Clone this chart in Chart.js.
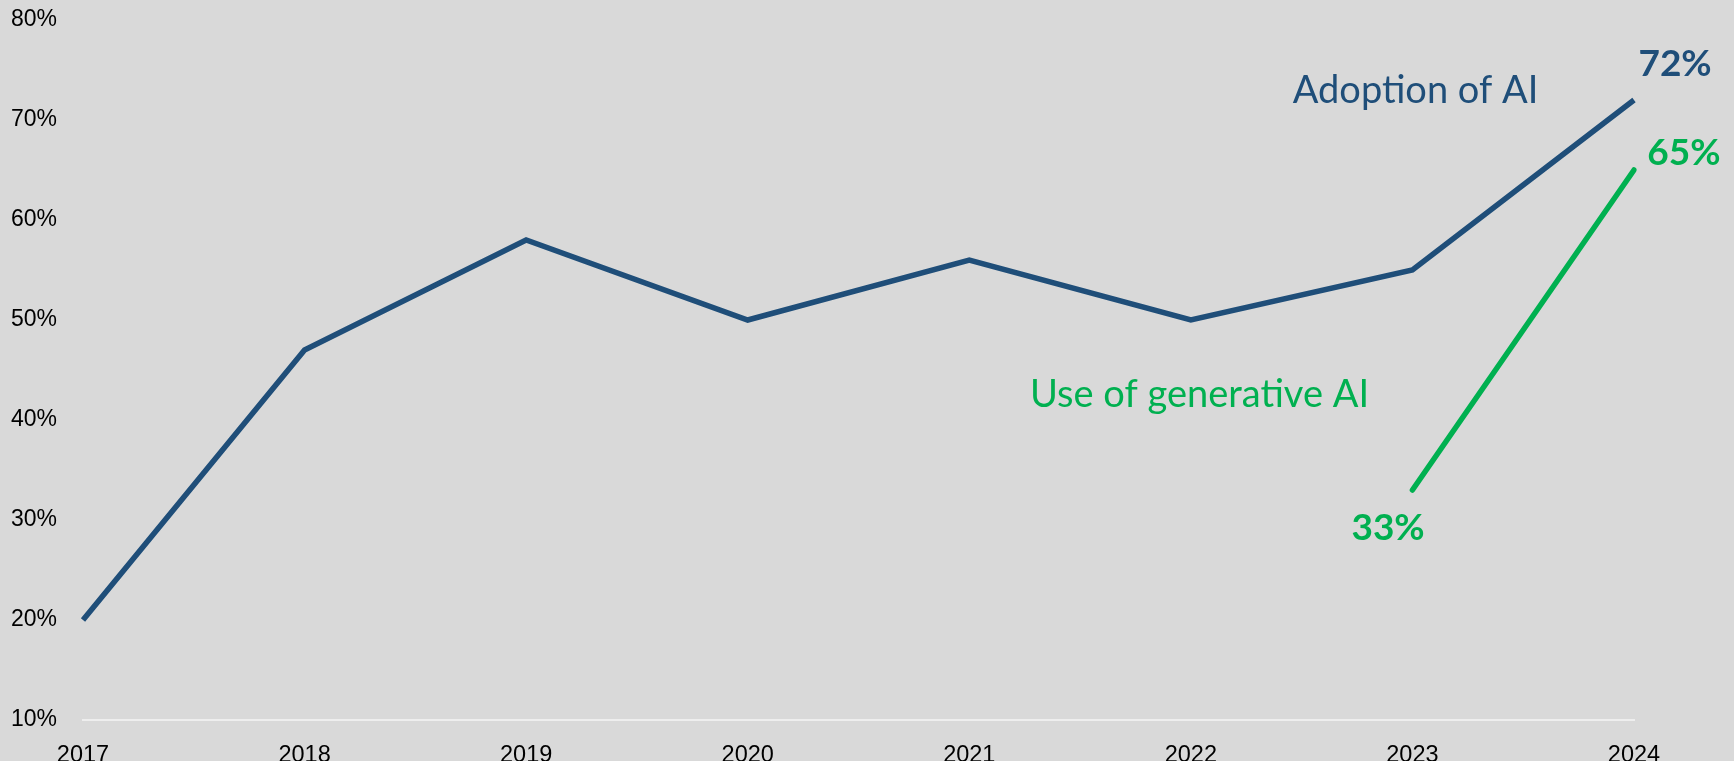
<!DOCTYPE html>
<html lang="en">
<head>
    <meta charset="UTF-8">
    <title>Adoption of AI</title>
    <script src="https://cdn.jsdelivr.net/npm/chart.js"></script>
    <style>
        html, body { margin: 0; padding: 0; background: #d9d9d9; }
        #wrap { width: 1734px; height: 761px; }
    </style>
</head>
<body>
<div id="wrap"><canvas id="chart" width="1734" height="761"></canvas></div>

<script>
    // Data
    const years = ['2017', '2018', '2019', '2020', '2021', '2022', '2023', '2024'];
    const adoptionAI = [20, 47, 58, 50, 56, 50, 55, 72];
    const generativeAI = [null, null, null, null, null, null, 33, 65];

    const blue = '#1f4e79';
    const green = '#00b050';

    // Text labels, placed in data space (x = category index, y = percent)
    const notes = [
        { text: 'Adoption of AI', x: 5.46, y: 71.7, color: blue, weight: '400', size: 38, align: 'left' },
        { text: 'Use of generative AI', x: 4.274, y: 41.3, color: green, weight: '400', size: 38, align: 'left' },
        { text: '72%', x: 7.02, y: 74.4, color: blue, weight: '700', size: 37, align: 'left' },
        { text: '65%', x: 7.06, y: 65.5, color: green, weight: '700', size: 37, align: 'left' },
        { text: '33%', x: 5.89, y: 28, color: green, weight: '700', size: 37, align: 'center' }
    ];

    const notesPlugin = {
        id: 'notes',
        afterDatasetsDraw(chart) {
            const ctx = chart.ctx;
            const xs = chart.scales.x, ys = chart.scales.y;
            ctx.save();
            notes.forEach(n => {
                ctx.font = n.weight + ' ' + n.size + 'px Lato';
                ctx.fillStyle = n.color;
                ctx.textAlign = n.align;
                ctx.textBaseline = 'alphabetic';
                ctx.fillText(n.text, xs.getPixelForValue(n.x), ys.getPixelForValue(n.y));
            });
            ctx.restore();
        }
    };

    const ctx = document.getElementById('chart').getContext('2d');
    new Chart(ctx, {
        type: 'line',
        data: {
            labels: years,
            datasets: [
                {
                    label: 'Adoption of AI',
                    data: adoptionAI,
                    borderColor: blue,
                    borderWidth: 5.5,
                    borderCapStyle: 'butt',
                    borderJoinStyle: 'miter',
                    pointRadius: 0,
                    tension: 0,
                    fill: false
                },
                {
                    label: 'Use of generative AI',
                    data: generativeAI,
                    borderColor: green,
                    borderWidth: 5.5,
                    borderCapStyle: 'round',
                    pointRadius: 0,
                    tension: 0,
                    fill: false
                }
            ]
        },
        options: {
            responsive: false,
            animation: false,
            layout: { autoPadding: false, padding: { top: 20, right: 100, left: 0, bottom: 0 } },
            plugins: {
                legend: { display: false },
                tooltip: { enabled: false }
            },
            scales: {
                x: {
                    offset: false,
                    grid: { display: false, drawTicks: false },
                    border: { display: true, color: '#eeeeee', width: 2 },
                    ticks: {
                        color: '#000',
                        font: { family: 'Liberation Sans', size: 23.5 },
                        padding: 21,
                        maxRotation: 0,
                        autoSkip: false
                    },
                    afterFit(scale) { scale.height = 41; }
                },
                y: {
                    min: 10,
                    max: 80,
                    grid: { display: false, drawTicks: false },
                    border: { display: false },
                    ticks: {
                        stepSize: 10,
                        color: '#000',
                        padding: 26,
                        font: { family: 'Liberation Sans', size: 23 },
                        callback: v => v + '%'
                    },
                    afterFit(scale) {
                        scale.width = 83;
                        scale.paddingTop = 0;
                        scale.paddingBottom = 0;
                    }
                }
            }
        },
        plugins: [notesPlugin]
    });
</script>
</body>
</html>
